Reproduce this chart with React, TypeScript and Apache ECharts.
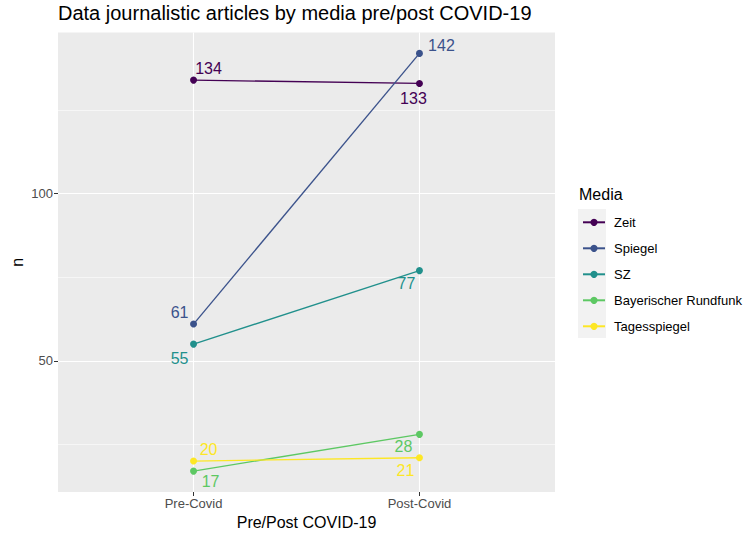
import React, { useEffect, useRef } from "react";
import * as echarts from "echarts";

const periods = ["Pre-Covid", "Post-Covid"];
const media = ["Zeit", "Spiegel", "SZ", "Bayerischer Rundfunk", "Tagesspiegel"];
const preCovid = [134, 61, 55, 17, 20];
const postCovid = [133, 142, 77, 28, 21];
const yTicks = [50, 100];
const yMinor = [25, 75, 125];

const colors = ["#440154", "#3B528B", "#21908C", "#5DC863", "#FDE725"];
// label offsets [pre, post] (style config)
const labelOffsets: number[][][] = [
  [[15, -12], [-6, 15]],
  [[-14, -12], [22, -8]],
  [[-14, 14], [-13, 13]],
  [[17, 10], [-16, 12]],
  [[15, -12], [-14, 13]],
];

const FONT = "Liberation Sans, Arial, Helvetica, sans-serif";

export default function App() {
  const ref = useRef<HTMLDivElement>(null);
  useEffect(() => {
    if (!ref.current) return;
    const chart = echarts.init(ref.current, null, { renderer: "svg" });
    const gridLines: any[] = [];
    yTicks.forEach((v) => gridLines.push({ yAxis: v, lineStyle: { color: "#fff", width: 1.1, type: "solid" } }));
    yMinor.forEach((v) => gridLines.push({ yAxis: v, lineStyle: { color: "#fff", width: 0.55, type: "solid" } }));
    periods.forEach((_, i) => gridLines.push({ xAxis: i + 1, lineStyle: { color: "#fff", width: 1.1, type: "solid" } }));

    const series: any[] = [
      {
        name: "__grid",
        type: "line",
        z: 0,
        data: [[1, 50]],
        symbol: "none",
        showSymbol: false,
        lineStyle: { opacity: 0 },
        silent: true,
        markLine: {
          silent: true,
          z: 0,
          symbol: ["none", "none"],
          label: { show: false },
          animation: false,
          data: gridLines,
        },
      },
    ];
    media.forEach((m, i) => {
      const vals = [preCovid[i], postCovid[i]];
      series.push({
        name: m,
        type: "line",
        z: 3,
        symbol: "circle",
        symbolSize: 7,
        color: colors[i],
        lineStyle: { width: 1.3, color: colors[i] },
        itemStyle: { color: colors[i], borderWidth: 0 },
        data: vals.map((v, j) => ({
          value: [j + 1, v],
          label: {
            show: true,
            position: "inside",
            align: "center",
            verticalAlign: "middle",
            offset: labelOffsets[i][j],
            formatter: String(v),
            color: colors[i],
            fontSize: 16,
            fontFamily: FONT,
          },
        })),
      });
    });

    chart.setOption({
      animation: false,
      textStyle: { fontFamily: FONT },
      title: {
        text: "Data journalistic articles by media pre/post COVID-19",
        left: 58,
        top: 3,
        padding: 0,
        textStyle: { fontSize: 20, fontWeight: "normal", color: "#000", fontFamily: FONT },
      },
      grid: {
        left: 58,
        top: 32.5,
        width: 497,
        height: 459.5,
        show: true,
        backgroundColor: "#EBEBEB",
        borderWidth: 0,
        containLabel: false,
        outerBoundsMode: "none",
      },
      xAxis: {
        type: "value",
        min: 0.4,
        max: 2.6,
        name: "Pre/Post COVID-19",
        nameLocation: "middle",
        nameGap: 21,
        nameTextStyle: { fontSize: 16, color: "#000", fontFamily: FONT },
        axisLine: { show: false },
        splitLine: { show: false },
        axisTick: { show: true, customValues: [1, 2], length: 4, lineStyle: { color: "#333", width: 1 } },
        axisLabel: {
          customValues: [1, 2],
          formatter: (v: number) => periods[Math.round(v) - 1] ?? "",
          color: "#4D4D4D",
          fontSize: 13,
          margin: 5,
          fontFamily: FONT,
        },
      },
      yAxis: {
        type: "value",
        min: 10.75,
        max: 148.25,
        name: "n",
        nameLocation: "middle",
        nameGap: 33,
        nameMoveOverlap: false,
        nameRotate: 90,
        nameTextStyle: { fontSize: 16, color: "#000", fontFamily: FONT },
        axisLine: { show: false },
        splitLine: { show: false },
        axisTick: { show: true, customValues: yTicks, length: 4, lineStyle: { color: "#333", width: 1 } },
        axisLabel: {
          customValues: yTicks,
          color: "#4D4D4D",
          fontSize: 13,
          margin: 5,
          fontFamily: FONT,
        },
      },
      legend: {
        data: media,
        orient: "vertical",
        left: 582,
        top: 215.8,
        itemWidth: 22,
        itemHeight: 9,
        itemGap: 13,
        padding: 0,
        textStyle: { fontSize: 13, color: "#000", fontFamily: FONT, padding: [0, 0, 0, 4] },
        selectedMode: false,
      },
      graphic: [
        {
          type: "rect",
          z: -1,
          shape: { x: 578, y: 209, width: 28, height: 129 },
          style: { fill: "#F2F2F2" },
        },
        {
          type: "text",
          x: 579,
          y: 194,
          style: {
            text: "Media",
            fontSize: 16,
            fill: "#000",
            fontFamily: FONT,
            verticalAlign: "middle",
          },
        },
      ],
      series,
    });
    return () => chart.dispose();
  }, []);
  return (
    <div
      ref={ref}
      style={{ position: "fixed", left: 0, top: 0, width: 745, height: 533, background: "#fff" }}
    />
  );
}
